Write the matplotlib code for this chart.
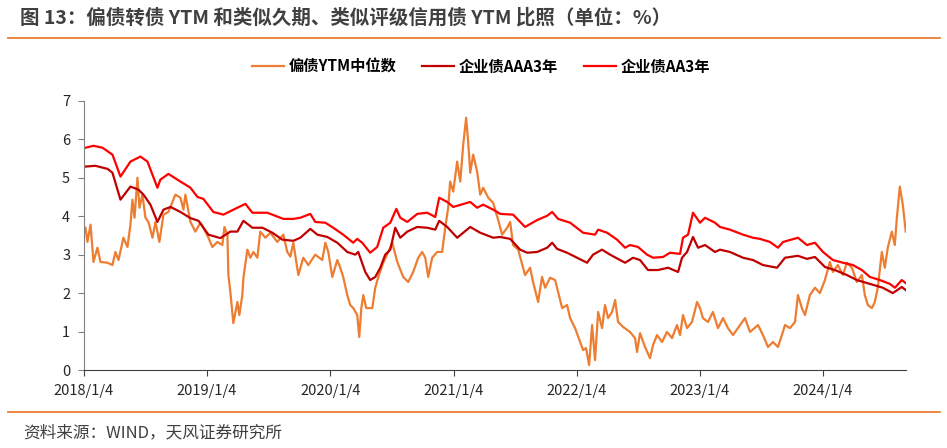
import numpy as np
import pandas as pd
import matplotlib
matplotlib.use("Agg")
import matplotlib.pyplot as plt

plt.rcParams['font.family'] = ['Noto Sans CJK SC', 'DejaVu Sans']

# ---- data: time in years after 2018/1/4, yields in % ----
aa_t = [0.012, 0.077, 0.150, 0.231, 0.296, 0.377, 0.458, 0.515, 0.596, 0.620, 0.685, 0.783,
        0.864, 0.921, 0.969, 1.050, 1.131, 1.213, 1.310, 1.367, 1.488, 1.618, 1.699, 1.756,
        1.837, 1.877, 1.959, 2.023, 2.104, 2.185, 2.218, 2.258, 2.323, 2.380, 2.429, 2.486,
        2.535, 2.567, 2.624, 2.705, 2.786, 2.851, 2.883, 2.948, 2.997, 3.135, 3.191, 3.240,
        3.321, 3.378, 3.483, 3.580, 3.678, 3.759, 3.800, 3.848, 3.946, 4.051, 4.148, 4.173,
        4.246, 4.327, 4.392, 4.432, 4.497, 4.570, 4.619, 4.700, 4.757, 4.838, 4.862, 4.903,
        4.943, 5.000, 5.041, 5.122, 5.162, 5.243, 5.349, 5.430, 5.487, 5.568, 5.633, 5.674,
        5.795, 5.868, 5.933, 5.998, 6.079, 6.160, 6.241, 6.314, 6.379, 6.460, 6.541, 6.582,
        6.638, 6.670]
aa = [5.78, 5.83, 5.78, 5.60, 5.03, 5.42, 5.55, 5.42, 4.74, 4.95, 5.10, 4.90,
      4.74, 4.50, 4.45, 4.11, 4.04, 4.17, 4.32, 4.09, 4.09, 3.93, 3.93, 3.96,
      4.06, 3.85, 3.83, 3.70, 3.52, 3.31, 3.41, 3.31, 3.05, 3.20, 3.70, 3.83,
      4.19, 3.96, 3.85, 4.06, 4.09, 3.98, 4.48, 4.37, 4.24, 4.37, 4.22, 4.30,
      4.17, 4.06, 4.04, 3.72, 3.90, 4.01, 4.11, 3.93, 3.83, 3.57, 3.52, 3.65,
      3.57, 3.39, 3.18, 3.25, 3.20, 3.00, 2.92, 2.94, 3.05, 3.02, 3.44, 3.52,
      4.09, 3.83, 3.96, 3.83, 3.72, 3.65, 3.52, 3.44, 3.41, 3.33, 3.18, 3.33,
      3.44, 3.25, 3.31, 3.07, 2.86, 2.79, 2.73, 2.60, 2.42, 2.34, 2.24, 2.14,
      2.34, 2.26]

aaa_t = [0.012, 0.093, 0.191, 0.231, 0.296, 0.377, 0.442, 0.483, 0.539, 0.596, 0.645, 0.702,
         0.783, 0.864, 0.929, 1.010, 1.107, 1.188, 1.245, 1.294, 1.367, 1.448, 1.529, 1.610,
         1.699, 1.756, 1.837, 1.894, 1.975, 2.056, 2.137, 2.202, 2.226, 2.283, 2.323, 2.364,
         2.405, 2.445, 2.486, 2.526, 2.567, 2.624, 2.705, 2.786, 2.851, 2.883, 2.948, 3.029,
         3.135, 3.216, 3.321, 3.378, 3.459, 3.540, 3.597, 3.678, 3.759, 3.800, 3.840, 3.921,
         4.002, 4.083, 4.132, 4.205, 4.270, 4.392, 4.457, 4.513, 4.578, 4.659, 4.741, 4.822,
         4.854, 4.895, 4.943, 4.984, 5.041, 5.122, 5.162, 5.243, 5.349, 5.430, 5.511, 5.625,
         5.690, 5.795, 5.868, 5.933, 6.014, 6.095, 6.192, 6.273, 6.379, 6.484, 6.565, 6.638,
         6.670]
aaa = [5.29, 5.31, 5.23, 5.13, 4.43, 4.77, 4.69, 4.56, 4.30, 3.85, 4.17, 4.24,
       4.11, 3.95, 3.88, 3.52, 3.43, 3.60, 3.60, 3.88, 3.70, 3.70, 3.57, 3.39,
       3.36, 3.44, 3.67, 3.52, 3.46, 3.31, 3.07, 3.00, 3.07, 2.55, 2.34, 2.42,
       2.66, 3.00, 3.13, 3.70, 3.44, 3.60, 3.72, 3.70, 3.65, 3.88, 3.72, 3.44,
       3.72, 3.57, 3.44, 3.46, 3.41, 3.13, 3.05, 3.07, 3.18, 3.31, 3.15, 3.05,
       2.92, 2.79, 3.00, 3.13, 3.00, 2.79, 2.92, 2.86, 2.60, 2.60, 2.66, 2.55,
       2.92, 3.07, 3.46, 3.18, 3.25, 3.07, 3.13, 3.07, 2.92, 2.86, 2.73, 2.66,
       2.92, 2.97, 2.89, 2.94, 2.68, 2.60, 2.47, 2.34, 2.24, 2.14, 2.00, 2.16,
       2.08]

cb_t = [0.012, 0.028, 0.053, 0.077, 0.109, 0.134, 0.191, 0.231, 0.255, 0.280, 0.320, 0.353,
        0.377, 0.393, 0.410, 0.434, 0.450, 0.474, 0.499, 0.523, 0.556, 0.580, 0.612, 0.645,
        0.685, 0.742, 0.783, 0.807, 0.823, 0.864, 0.904, 0.945, 0.969, 1.010, 1.042, 1.083,
        1.123, 1.140, 1.164, 1.172, 1.188, 1.212, 1.245, 1.261, 1.285, 1.294, 1.326, 1.350,
        1.375, 1.407, 1.431, 1.472, 1.513, 1.569, 1.618, 1.650, 1.675, 1.699, 1.740, 1.780,
        1.821, 1.877, 1.934, 1.959, 1.983, 2.015, 2.056, 2.080, 2.104, 2.137, 2.161, 2.186,
        2.218, 2.234, 2.251, 2.267, 2.291, 2.340, 2.364, 2.389, 2.429, 2.470, 2.502, 2.543,
        2.591, 2.632, 2.672, 2.713, 2.745, 2.770, 2.794, 2.826, 2.867, 2.907, 2.932, 2.956,
        2.972, 2.997, 3.029, 3.054, 3.078, 3.102, 3.118, 3.135, 3.159, 3.191, 3.216, 3.240,
        3.281, 3.321, 3.362, 3.394, 3.435, 3.459, 3.483, 3.524, 3.580, 3.621, 3.645, 3.686,
        3.718, 3.743, 3.783, 3.824, 3.848, 3.881, 3.921, 3.946, 3.986, 4.027, 4.051, 4.075,
        4.100, 4.124, 4.148, 4.173, 4.205, 4.229, 4.254, 4.286, 4.311, 4.335, 4.376, 4.432,
        4.473, 4.489, 4.513, 4.554, 4.594, 4.619, 4.651, 4.692, 4.732, 4.773, 4.813, 4.838,
        4.862, 4.895, 4.935, 4.976, 5.000, 5.024, 5.065, 5.105, 5.146, 5.187, 5.227, 5.268,
        5.308, 5.365, 5.406, 5.471, 5.511, 5.552, 5.592, 5.633, 5.665, 5.690, 5.730, 5.771,
        5.795, 5.827, 5.852, 5.892, 5.933, 5.973, 6.014, 6.054, 6.079, 6.119, 6.160, 6.192,
        6.233, 6.273, 6.314, 6.338, 6.362, 6.395, 6.419, 6.443, 6.476, 6.500, 6.524, 6.557,
        6.581, 6.598, 6.622, 6.646, 6.670]
cb = [3.70, 3.33, 3.78, 2.81, 3.18, 2.81, 2.79, 2.73, 3.07, 2.86, 3.44, 3.20,
      3.78, 4.43, 3.96, 5.00, 4.22, 4.56, 3.96, 3.85, 3.44, 3.85, 3.33, 4.04,
      4.11, 4.56, 4.48, 4.17, 4.56, 3.85, 3.60, 3.83, 3.70, 3.44, 3.20, 3.33,
      3.25, 3.72, 3.52, 2.47, 2.03, 1.22, 1.77, 1.43, 1.95, 2.40, 3.13, 2.92,
      3.07, 2.92, 3.60, 3.44, 3.57, 3.33, 3.52, 3.07, 2.95, 3.31, 2.47, 2.92,
      2.73, 3.00, 2.86, 3.31, 3.07, 2.42, 2.86, 2.66, 2.42, 1.95, 1.69, 1.61,
      1.43, 0.86, 1.61, 1.95, 1.61, 1.61, 2.14, 2.42, 2.79, 3.07, 3.31, 2.81,
      2.42, 2.29, 2.55, 2.92, 3.07, 2.92, 2.42, 2.92, 3.07, 3.07, 3.70, 4.22,
      4.90, 4.64, 5.42, 4.90, 5.86, 6.56, 5.94, 5.13, 5.60, 5.16, 4.56, 4.74,
      4.48, 4.35, 3.90, 3.52, 3.70, 3.85, 3.25, 3.13, 2.47, 2.66, 2.29, 1.77,
      2.42, 2.14, 2.40, 2.34, 2.03, 1.61, 1.69, 1.35, 1.09, 0.73, 0.52, 0.57,
      0.13, 1.17, 0.26, 1.51, 1.09, 1.69, 1.35, 1.51, 1.82, 1.25, 1.12, 0.99,
      0.83, 0.47, 0.96, 0.60, 0.31, 0.65, 0.91, 0.73, 0.99, 0.83, 1.17, 0.91,
      1.43, 1.09, 1.25, 1.77, 1.61, 1.35, 1.25, 1.51, 1.09, 1.35, 1.09, 0.91,
      1.09, 1.35, 0.99, 1.17, 0.91, 0.60, 0.73, 0.60, 0.91, 1.17, 1.09, 1.25,
      1.95, 1.61, 1.43, 1.95, 2.14, 2.00, 2.34, 2.81, 2.55, 2.73, 2.47, 2.79,
      2.66, 2.29, 2.47, 1.95, 1.69, 1.61, 1.77, 2.14, 3.07, 2.66, 3.18, 3.60,
      3.25, 3.96, 4.77, 4.30, 3.60]

tick_years = [2018, 2019, 2020, 2021, 2022, 2023, 2024]

start = pd.Timestamp('2018-01-04')


def to_dates(t):
    return start + pd.to_timedelta(np.array(t) * 365.25, unit='D')


fig = plt.figure(figsize=(9.47, 4.48), dpi=100)
ax = fig.add_axes([0.0887, 0.174, 0.868, 0.601])

ax.plot(to_dates(cb_t), cb, color='#ED7D31', lw=1.6, label='偏债YTM中位数')
ax.plot(to_dates(aaa_t), aaa, color='#C00000', lw=1.6, label='企业债AAA3年')
ax.plot(to_dates(aa_t), aa, color='#FF0000', lw=1.6, label='企业债AA3年')

ax.set_ylim(0, 7)
ax.set_xlim(to_dates([0.0])[0], to_dates([6.672])[0])
ax.set_yticks(range(0, 8))
ax.set_xticks([pd.Timestamp(f'{y}-01-04') for y in tick_years])
ax.set_xticklabels([f'{y}/1/4' for y in tick_years])

for s in ['top', 'right']:
    ax.spines[s].set_visible(False)
ax.spines['left'].set_color('#808080')
ax.spines['bottom'].set_color('#404040')
ax.tick_params(axis='y', length=4, color='#808080', labelsize=10.5, labelcolor='#262626', pad=6)
ax.tick_params(axis='x', length=4, color='#404040', labelsize=10.5, labelcolor='#262626', pad=6)

leg = fig.legend(loc='center', bbox_to_anchor=(0.508, 0.851), ncol=3, frameon=False,
                 handlelength=2.1, handletextpad=0.3, columnspacing=1.7,
                 prop={'weight': 'bold', 'size': 11})

fig.text(0.021, 0.96, '图 13：偏债转债 YTM 和类似久期、类似评级信用债 YTM 比照（单位：%）',
         fontsize=14, fontweight='bold', color='#404040', va='center')
fig.add_artist(plt.Line2D([0.008, 0.993], [0.915, 0.915], color='#ED7D31', lw=1.3))
fig.add_artist(plt.Line2D([0.008, 0.993], [0.08, 0.08], color='#ED7D31', lw=1.3))
fig.text(0.024, 0.035, '资料来源：WIND，天风证券研究所', fontsize=12, color='#404040', va='center')

fig.savefig('out.png', dpi=100)
